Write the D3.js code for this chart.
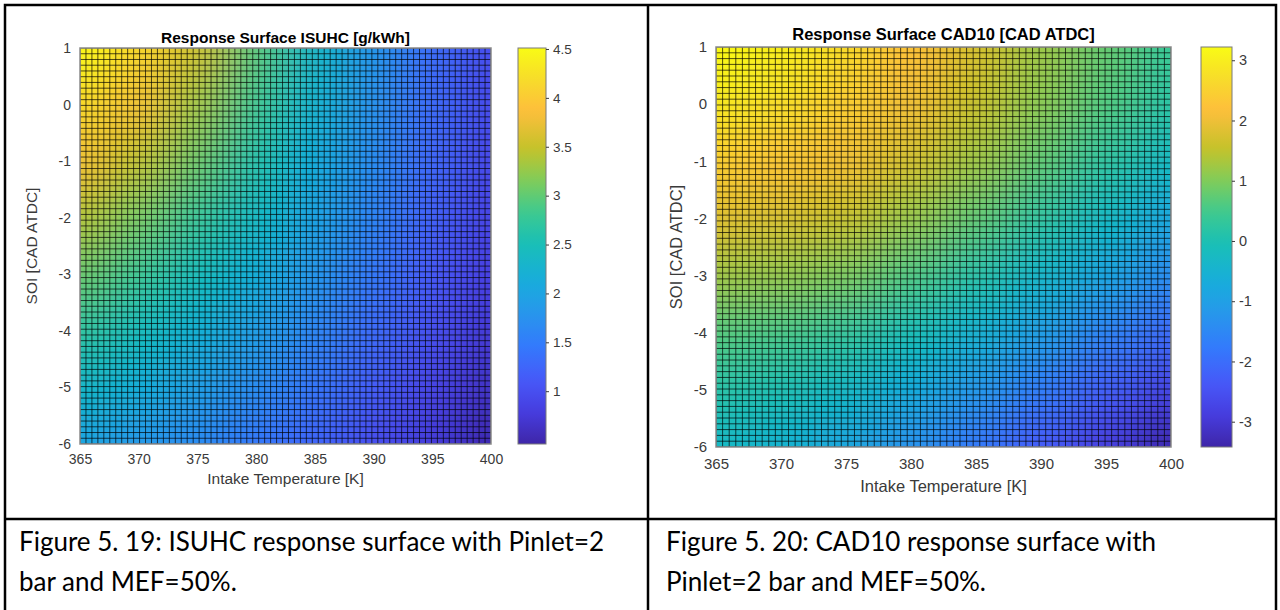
<!DOCTYPE html>
<html><head><meta charset="utf-8">
<script src="https://cdn.jsdelivr.net/npm/d3@7"></script>
<style>
html,body{margin:0;padding:0;background:#fff;}
svg{display:block;}
</style></head><body>
<svg id="fig" width="1280" height="610"></svg>
<script>
// ================= DATA =================
const tempTicks = [365, 370, 375, 380, 385, 390, 395, 400];
const soiTicks = [1, 0, -1, -2, -3, -4, -5, -6];

// surface readings at each (SOI row, temperature column) tick crossing
const gridTemps = [365, 370, 375, 380, 385, 390, 395, 400];
const gridSOI = [1, 0, -1, -2, -3, -4, -5, -6];

const isuhcValues = [
  [4.50, 4.10, 3.55, 2.95, 2.35, 1.80, 1.30, 0.95],
  [4.15, 3.80, 3.30, 2.80, 2.25, 1.75, 1.28, 0.93],
  [3.80, 3.45, 3.05, 2.60, 2.12, 1.68, 1.25, 0.90],
  [3.40, 3.10, 2.75, 2.38, 1.98, 1.58, 1.18, 0.86],
  [3.05, 2.78, 2.48, 2.15, 1.80, 1.45, 1.10, 0.80],
  [2.70, 2.45, 2.20, 1.92, 1.62, 1.30, 1.00, 0.72],
  [2.35, 2.15, 1.93, 1.68, 1.42, 1.15, 0.88, 0.62],
  [2.00, 1.83, 1.65, 1.44, 1.22, 0.98, 0.75, 0.48]
];

const cad10Values = [
  [ 3.20,  3.00,  2.65,  2.20,  1.72,  1.22,  0.78,  0.38],
  [ 2.90,  2.72,  2.42,  2.02,  1.57,  1.08,  0.62,  0.18],
  [ 2.42,  2.28,  2.03,  1.68,  1.23,  0.73,  0.23, -0.27],
  [ 1.84,  1.74,  1.54,  1.18,  0.73,  0.23, -0.27, -0.82],
  [ 1.24,  1.14,  0.94,  0.58,  0.13, -0.37, -0.87, -1.42],
  [ 0.64,  0.54,  0.29, -0.06, -0.52, -1.02, -1.57, -2.07],
  [ 0.14, -0.01, -0.31, -0.72, -1.17, -1.72, -2.27, -2.78],
  [-0.31, -0.51, -0.86, -1.31, -1.82, -2.37, -2.92, -3.42]
];

const isuhcColorTicks = [1, 1.5, 2, 2.5, 3, 3.5, 4, 4.5];
const cad10ColorTicks = [-3, -2, -1, 0, 1, 2, 3];
const isuhcColorRange = [0.46, 4.51];
const cad10ColorRange = [-3.42, 3.22];

const titles = ["Response Surface ISUHC [g/kWh]", "Response Surface CAD10 [CAD ATDC]"];
const xLabel = "Intake Temperature [K]";
const yLabel = "SOI [CAD ATDC]";
const captions = [
  ["Figure 5. 19: ISUHC response surface with Pinlet=2", "bar and MEF=50%."],
  ["Figure 5. 20: CAD10 response surface with", "Pinlet=2 bar and MEF=50%."]
];

// ================= STYLE =================
// MATLAB parula colormap anchor colours
const parulaStops = [
  [0/63, [0.2422,0.1504,0.6603]], [5/63, [0.2751,0.2342,0.8710]],
  [10/63,[0.2795,0.3447,0.9717]], [16/63,[0.1963,0.4847,0.9892]],
  [21/63,[0.1540,0.5902,0.9218]], [26/63,[0.0952,0.6798,0.8598]],
  [32/63,[0.0964,0.7500,0.7120]], [37/63,[0.2470,0.7918,0.5567]],
  [42/63,[0.5044,0.7993,0.3480]], [47/63,[0.7738,0.7598,0.1646]],
  [53/63,[0.9956,0.7434,0.2371]], [58/63,[0.9676,0.8639,0.1643]],
  [63/63,[0.9769,0.9839,0.0805]]
];
const parula = d3.scaleLinear()
  .domain(parulaStops.map(d => d[0]))
  .range(parulaStops.map(d => d3.rgb(d[1][0]*255, d[1][1]*255, d[1][2]*255).formatHex()))
  .interpolate(d3.interpolateRgb).clamp(true);

const FONT = "'Liberation Sans', Arial, Helvetica, sans-serif";
const CAPFONT = "Lato, 'Open Sans', sans-serif";
const meshCells = 69;
const fmt = d => String(d);

const panels = [
  { values: isuhcValues, cticks: isuhcColorTicks, crange: isuhcColorRange, title: titles[0],
    plot: {x0: 80, y0: 48, x1: 491, y1: 444}, cbar: {x0: 518, x1: 546},
    tick: 14, lab: 15.5, ttl: 15.5, titleY: 43, xLabY: 484, yLabX: 37, xTickPad: 10 },
  { values: cad10Values, cticks: cad10ColorTicks, crange: cad10ColorRange, title: titles[1],
    plot: {x0: 716, y0: 47, x1: 1171, y1: 447}, cbar: {x0: 1201, x1: 1232},
    tick: 15, lab: 16.5, ttl: 16.5, titleY: 40, xLabY: 492, yLabX: 682, xTickPad: 11 }
];

const svg = d3.select("#fig");
const defs = svg.append("defs");

defs.append("filter").attr("id", "smooth")
  .attr("filterUnits", "userSpaceOnUse")
  .attr("x", 0).attr("y", 0).attr("width", 1280).attr("height", 610)
  .append("feGaussianBlur").attr("stdDeviation", 22);

panels.forEach((p, pi) => {
  const x = d3.scaleLinear().domain([365, 400]).range([p.plot.x0, p.plot.x1]);
  const y = d3.scaleLinear().domain([-6, 1]).range([p.plot.y1, p.plot.y0]);
  const norm = d3.scaleLinear().domain(p.crange).range([0, 1]);
  const color = v => parula(norm(v));

  defs.append("clipPath").attr("id", "clip" + pi)
    .append("rect").attr("x", p.plot.x0).attr("y", p.plot.y0)
    .attr("width", p.plot.x1 - p.plot.x0).attr("height", p.plot.y1 - p.plot.y0);

  const g = svg.append("g");

  // surface
  const cells = [];
  p.values.forEach((row, r) => row.forEach((v, c) => cells.push({r, c, v})));
  const clipG = g.append("g").attr("clip-path", `url(#clip${pi})`);
  const surf = clipG.append("g").attr("filter", "url(#smooth)");
  const dT = 2.5, dS = 0.5, pad = 90;
  surf.selectAll("rect").data(cells).join("rect")
    .attr("x", d => x(gridTemps[d.c] - dT) - (d.c === 0 ? pad : 0))
    .attr("y", d => y(gridSOI[d.r] + dS) - (d.r === 0 ? pad : 0))
    .attr("width", d => x(gridTemps[d.c] + dT) - x(gridTemps[d.c] - dT) + (d.c === 0 || d.c === gridTemps.length - 1 ? pad : 0) + 0.5)
    .attr("height", d => y(gridSOI[d.r] - dS) - y(gridSOI[d.r] + dS) + (d.r === 0 || d.r === gridSOI.length - 1 ? pad : 0) + 0.5)
    .attr("fill", d => color(d.v));

  // mesh lines
  const meshT = d3.range(meshCells + 1).map(k => 365 + k * 35 / meshCells);
  const meshS = d3.range(meshCells + 1).map(k => -6 + k * 7 / meshCells);
  const mesh = clipG.append("g").attr("stroke", "#000").attr("stroke-opacity", 0.68).attr("stroke-width", 1);
  mesh.selectAll("line.v").data(meshT).join("line").attr("class", "v")
    .attr("x1", d => x(d)).attr("x2", d => x(d)).attr("y1", p.plot.y0).attr("y2", p.plot.y1);
  mesh.selectAll("line.h").data(meshS).join("line").attr("class", "h")
    .attr("y1", d => y(d)).attr("y2", d => y(d)).attr("x1", p.plot.x0).attr("x2", p.plot.x1);

  // plot frame
  g.append("rect").attr("x", p.plot.x0).attr("y", p.plot.y0)
    .attr("width", p.plot.x1 - p.plot.x0).attr("height", p.plot.y1 - p.plot.y0)
    .attr("fill", "none").attr("stroke", "#8a8a8a").attr("stroke-width", 1.5);

  // axes
  const xa = g.append("g").attr("transform", `translate(0,${p.plot.y1})`)
    .call(d3.axisBottom(x).tickValues(tempTicks).tickFormat(fmt).tickSize(0).tickPadding(p.xTickPad));
  const ya = g.append("g").attr("transform", `translate(${p.plot.x0},0)`)
    .call(d3.axisLeft(y).tickValues(soiTicks).tickFormat(fmt).tickSize(0).tickPadding(9));
  [xa, ya].forEach(a => {
    a.select(".domain").remove();
    a.selectAll("text").attr("font-family", FONT).attr("font-size", p.tick).attr("fill", "#3a3a3a");
  });

  // titles & labels
  g.append("text").attr("x", (p.plot.x0 + p.plot.x1) / 2).attr("y", p.titleY)
    .attr("text-anchor", "middle").attr("font-family", FONT).attr("font-weight", "bold")
    .attr("font-size", p.ttl).attr("fill", "#000").text(p.title);
  g.append("text").attr("x", (p.plot.x0 + p.plot.x1) / 2).attr("y", p.xLabY)
    .attr("text-anchor", "middle").attr("font-family", FONT)
    .attr("font-size", p.lab).attr("fill", "#3a3a3a").text(xLabel);
  g.append("text").attr("transform", `translate(${p.yLabX},${(p.plot.y0 + p.plot.y1) / 2}) rotate(-90)`)
    .attr("text-anchor", "middle").attr("font-family", FONT)
    .attr("font-size", p.lab).attr("fill", "#3a3a3a").text(yLabel);

  // colorbar
  const cy = d3.scaleLinear().domain(p.crange).range([p.plot.y1, p.plot.y0]);
  const gradId = "grad" + pi;
  const grad = defs.append("linearGradient").attr("id", gradId)
    .attr("x1", 0).attr("y1", 1).attr("x2", 0).attr("y2", 0);
  d3.range(0, 1.0001, 1 / 40).forEach(t => grad.append("stop").attr("offset", t).attr("stop-color", parula(t)));
  g.append("rect").attr("x", p.cbar.x0).attr("y", p.plot.y0)
    .attr("width", p.cbar.x1 - p.cbar.x0).attr("height", p.plot.y1 - p.plot.y0)
    .attr("fill", `url(#${gradId})`).attr("stroke", "#7a7a7a").attr("stroke-width", 1);
  const ca = g.append("g").attr("transform", `translate(${p.cbar.x1},0)`)
    .call(d3.axisRight(cy).tickValues(p.cticks).tickFormat(fmt).tickSize(3).tickPadding(4));
  ca.select(".domain").remove();
  ca.selectAll("line").attr("stroke", "#3a3a3a");
  ca.selectAll("text").attr("font-family", FONT).attr("font-size", p.tick - 0.5).attr("fill", "#3a3a3a");
});

// table frame
const frame = svg.append("g").attr("stroke", "#000").attr("stroke-width", 2.5).attr("fill", "none");
frame.append("rect").attr("x", 5).attr("y", 5).attr("width", 1271).attr("height", 640);
frame.append("line").attr("x1", 648).attr("x2", 648).attr("y1", 4).attr("y2", 610);
frame.append("line").attr("x1", 4).attr("x2", 1277).attr("y1", 519).attr("y2", 519);

// captions
const capX = [19, 666];
captions.forEach((lines, i) => {
  lines.forEach((line, j) => {
    svg.append("text").attr("x", capX[i]).attr("y", 551 + j * 40)
      .attr("font-family", CAPFONT).attr("font-size", 26).attr("fill", "#000").text(line);
  });
});
</script>
</body></html>
